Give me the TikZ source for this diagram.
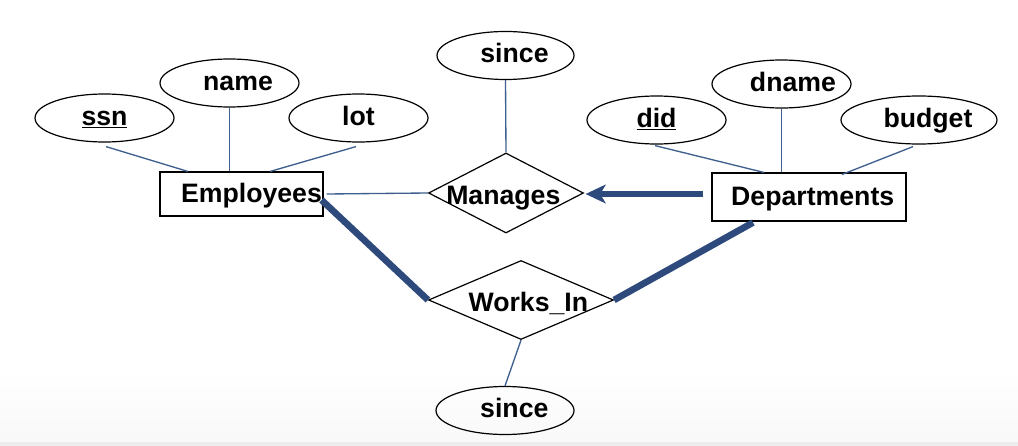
\documentclass[tikz,border=0pt]{standalone}
\usepackage{fontspec}
\setmainfont{Liberation Sans}
\usepackage[dvipsnames]{xcolor}
\usepackage{tikz}
\usetikzlibrary{shapes.geometric,arrows.meta,calc}

\definecolor{linkblue}{RGB}{63,95,143}
\definecolor{keyblue}{RGB}{46,74,125}

\tikzset{
  attr/.style={ellipse,draw,line width=0.9pt,inner sep=0pt,minimum width=104.25pt,minimum height=36pt,text height=14.5pt,text depth=4pt},
  entity/.style={rectangle,draw,line width=0.8pt,inner sep=0pt,text height=15.5pt,text depth=2.2pt},
  rel/.style={diamond,draw,line width=0.9pt,inner sep=0pt},
  rellabel/.style={inner sep=0pt,text height=18.5pt,text depth=2pt},
  textright/.style={execute at begin node={\kern#1},execute at end node={\kern-#1}},
  attrline/.style={draw=linkblue,line width=1pt},
  totalline/.style={draw=keyblue,line width=5pt},
}

\begin{document}
\begin{tikzpicture}[x=0.75pt,y=0.75pt,yscale=-1,xscale=1,font=\bfseries\fontsize{20}{24}\selectfont]
%set diagram left start at 0, and has height of 446
\fill[white] (0,0) rectangle (1018,446);
\shade[top color=white,bottom color=gray!5] (0,370) rectangle (1018,442);
\fill[gray!14] (0,442) rectangle (1018,446);

% Entities
\node [entity,textright=7.5pt,minimum width=122.25pt,minimum height=33pt] (emp) at (241.5,194) {Employees};
\node [entity,textright=2.8pt,minimum width=145.5pt,minimum height=36pt] (dept) at (809,197) {Departments};

% Relationships
\node [rel,minimum width=116.25pt,minimum height=60pt,label={[rellabel,xshift=-2pt]center:Manages}] (manages) at (506,193) {};
\node [rel,minimum width=138.75pt,minimum height=59.25pt,label={[rellabel,xshift=5.5pt]center:Works\_In}] (worksin) at (521,300) {};

% Attributes
\node [attr] (ssn) at (104.5,118) {\underline{ssn}};
\node [attr,textright=6.4pt] (ename) at (229.5,83) {name};
\node [attr] (lot) at (358.5,118) {lot};
\node [attr,textright=6.75pt,minimum width=102.75pt] (sincem) at (505.5,55.5) {since};
\node [attr] (did) at (656.5,120) {\underline{did}};
\node [attr,textright=8.6pt] (dname) at (781.5,84) {dname};
\node [attr,textright=6.75pt,minimum width=117pt] (budget) at (919,120) {budget};
\node [attr,textright=7pt,minimum width=103.5pt] (sincew) at (505,410.5) {since};

%Straight Lines
\draw [attrline] ($(ssn.south)+(1.5,4)$) -- ($(emp.north)+(-53.5,0)$);
\draw [attrline] (ename.south) -- (ename.south |- emp.north);
\draw [attrline] ($(lot.south)+(-2.5,4)$) -- ($(emp.north)+(28.5,0)$);
\draw [attrline] (sincem.south) -- (manages.north);
\draw [attrline] ($(emp.east)+(3,0)$) -- (manages.west);
\draw [attrline] ($(did.south)+(-1.5,1)$) -- ($(dept.north)+(-45,0)$);
\draw [attrline] (dname.south) -- (dname.south |- dept.north);
\draw [attrline] ($(budget.south)+(-6,2)$) -- ($(dept.north)+(33,2)$);
\draw [attrline] (worksin.south) -- (sincew.north);

%Thick Lines
\draw [totalline] ($(emp.east)+(-2,6)$) -- (worksin.west);
\draw [totalline] ($(dept.south)+(-56,1)$) -- (worksin.east);
\draw [totalline,-{Stealth[length=15pt,width=14pt,inset=4pt]}] ($(dept.west)+(-8,-3)$) -- ($(manages.east)+(1.5,1)$);

\end{tikzpicture}
\end{document}
